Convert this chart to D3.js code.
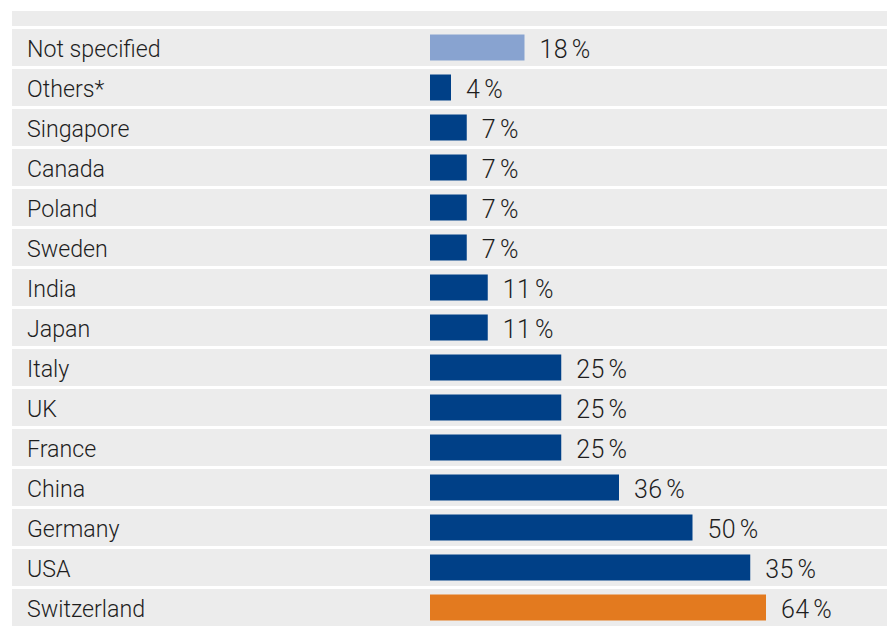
<!DOCTYPE html>
<html>
<head>
<meta charset="utf-8">
<script src="https://cdn.jsdelivr.net/npm/d3@7"></script>
<style>
  html, body { margin: 0; padding: 0; background: #fff; }
  svg text { font-family: Roboto, "Liberation Sans", Arial, sans-serif; font-weight: 300; fill: #1e1e1e; }
</style>
</head>
<body>
<div id="chart"></div>
<script>
// Rows, top to bottom
const categories = ["Not specified", "Others*", "Singapore", "Canada", "Poland", "Sweden", "India",
  "Japan", "Italy", "UK", "France", "China", "Germany", "USA", "Switzerland"];
// Bar lengths (in %)
const barValues = [18, 4, 7, 7, 7, 7, 11, 11, 25, 25, 25, 36, 50, 61, 64];
// Printed labels (USA label in the source reads 35 although its bar is ~61%)
const valueLabels = ["18", "4", "7", "7", "7", "7", "11", "11", "25", "25", "25", "36", "50", "35", "64"];
const barKind = ["unspecified", "country", "country", "country", "country", "country", "country",
  "country", "country", "country", "country", "country", "country", "country", "home"];

const width = 887, height = 630;

const svg = d3.select("#chart").append("svg")
  .attr("width", width)
  .attr("height", height);

const y = d3.scaleBand()
  .domain(categories)
  .range([29, 626])
  .paddingInner(0.075)
  .paddingOuter(0);

const x = d3.scaleLinear()
  .domain([0, 100])
  .range([430, 955]);

const color = d3.scaleOrdinal()
  .domain(["unspecified", "country", "home"])
  .range(["#88a3d0", "#004087", "#e37a1f"]);

const rows = categories.map((c, i) => ({ name: c, value: barValues[i], label: valueLabels[i], kind: barKind[i] }));

// header band
svg.append("rect")
  .attr("x", 12).attr("y", 11)
  .attr("width", width - 12).attr("height", 15)
  .attr("fill", "#ececec");

// row bands
svg.append("g").selectAll("rect")
  .data(rows)
  .join("rect")
  .attr("x", 12)
  .attr("y", d => y(d.name))
  .attr("width", width - 12)
  .attr("height", y.bandwidth())
  .attr("fill", "#ececec");

const barH = 26;

svg.append("g").selectAll("rect")
  .data(rows)
  .join("rect")
  .attr("x", x(0))
  .attr("y", d => y(d.name) + y.bandwidth() / 2 - barH / 2)
  .attr("width", d => x(d.value) - x(0))
  .attr("height", barH)
  .attr("fill", d => color(d.kind));

// category names
svg.append("g").selectAll("text")
  .data(rows)
  .join("text")
  .attr("x", 27)
  .attr("y", d => y(d.name) + y.bandwidth() / 2)
  .attr("dy", "0.4em")
  .style("font-size", "23.2px")
  .text(d => d.name);

// value labels: number, then a slightly detached % sign
const vals = svg.append("g").selectAll("text")
  .data(rows)
  .join("text")
  .attr("x", d => x(d.value) + 15)
  .attr("y", d => y(d.name) + y.bandwidth() / 2)
  .attr("dy", "0.4em")
  .style("font-size", "25px")
  .style("letter-spacing", "0.3px");

vals.append("tspan").text(d => d.label);
vals.append("tspan").attr("dx", 4).text("%");
</script>
</body>
</html>
